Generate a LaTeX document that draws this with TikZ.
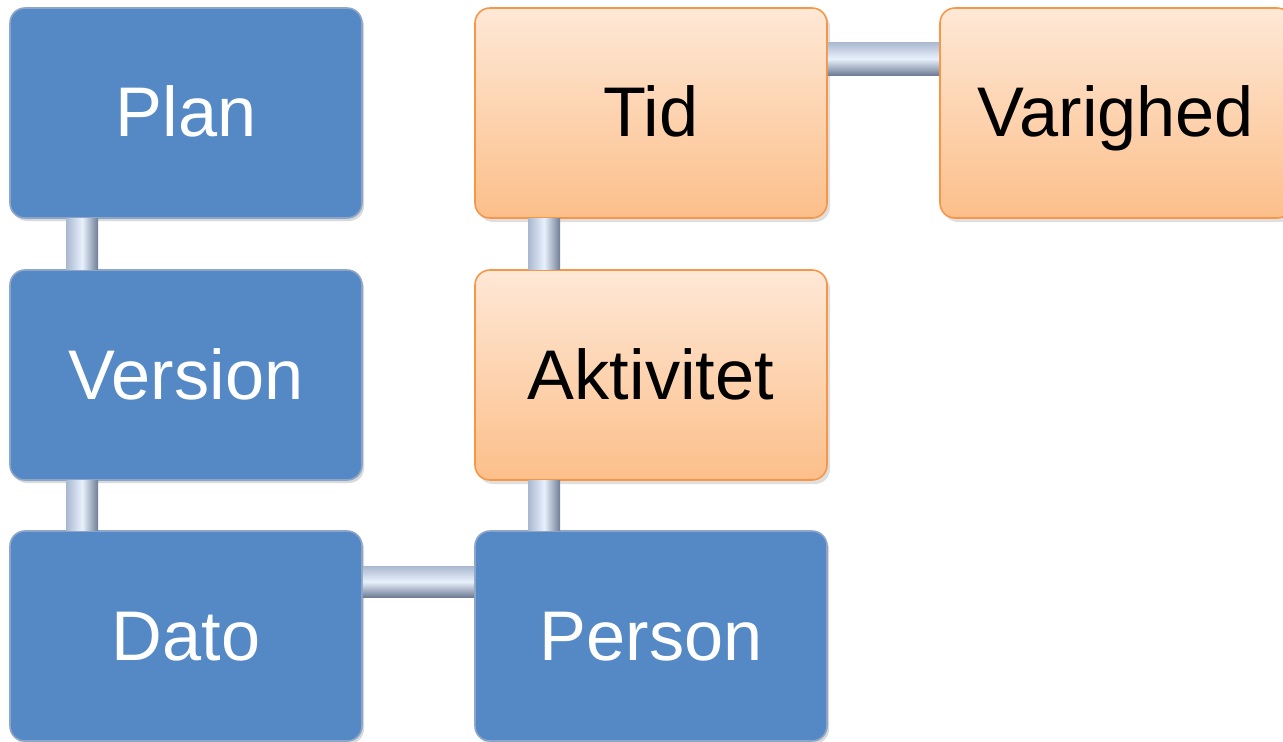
\documentclass[tikz,border=0pt]{standalone}
\usepackage{fontspec}
\setmainfont{Liberation Sans}
\usetikzlibrary{calc,shadows}
\definecolor{boxblue}{RGB}{84,137,198}
\definecolor{blueedge}{RGB}{140,165,200}
\definecolor{orangetop}{RGB}{254,232,214}
\definecolor{orangebot}{RGB}{252,191,138}
\definecolor{orangeedge}{RGB}{247,150,70}
\definecolor{barlight}{RGB}{232,240,252}
\definecolor{barmid}{RGB}{170,185,208}
\definecolor{bardark}{RGB}{110,124,148}

\begin{document}
\begin{tikzpicture}[
		bluebox/.style={rounded corners=0.3cm, minimum width=7.04cm, minimum height=4.2cm,
			fill=boxblue, draw=blueedge, line width=0.9pt, text=white,
			font=\fontsize{40}{46}\selectfont, text height=0.96cm, text depth=0cm,
			drop shadow={shadow xshift=0.04cm, shadow yshift=-0.06cm, opacity=0.3}},
		orangebox/.style={rounded corners=0.3cm, minimum width=7.04cm, minimum height=4.2cm,
			top color=orangetop, bottom color=orangebot, draw=orangeedge, line width=0.9pt,
			text=black, font=\fontsize{40}{46}\selectfont, text height=0.96cm, text depth=0cm,
			drop shadow={shadow xshift=0.06cm, shadow yshift=-0.08cm, opacity=0.25}},
		vbar/.style={left color=barmid, right color=bardark, middle color=barlight},
		hbar/.style={top color=barmid, bottom color=bardark, middle color=barlight}
	]
			%%%%% START %%%%%
			
			\clip (0, 0) rectangle (25.66, -14.84);
			\useasboundingbox (0, 0) rectangle (25.66, -14.84);
			
			% left column
			\node[bluebox] (plan) at (3.72, -2.26) {Plan};
			\node[bluebox] (version) at (3.72, -7.5) {Version};
			\node[bluebox] (dato) at (3.72, -12.72) {Dato};
			
			% right column
			\node[orangebox] (tid) at (13.02, -2.26) {Tid};
			\node[orangebox] (aktivitet) at (13.02, -7.5) {Aktivitet};
			\node[bluebox] (person) at (13.02, -12.72) {Person};
			\node[orangebox] (varighed) at (22.32, -2.26) {Varighed};
			
			% bars
			\shade[vbar] ($(plan.south west)+(1.14, 0)$) rectangle ($(version.north west)+(1.78, 0)$);
			\shade[vbar] ($(version.south west)+(1.14, 0)$) rectangle ($(dato.north west)+(1.78, 0)$);
			\shade[vbar] ($(tid.south west)+(1.08, 0)$) rectangle ($(aktivitet.north west)+(1.72, 0)$);
			\shade[vbar] ($(aktivitet.south west)+(1.08, 0)$) rectangle ($(person.north west)+(1.72, 0)$);
			\shade[hbar] ($(tid.north east)+(0, -0.7)$) rectangle ($(varighed.north west)+(0, -1.36)$);
			\shade[hbar] ($(dato.north east)+(0, -0.72)$) rectangle ($(person.north west)+(0, -1.34)$);
			
			%%%%% END %%%%%
		\end{tikzpicture}
\end{document}
